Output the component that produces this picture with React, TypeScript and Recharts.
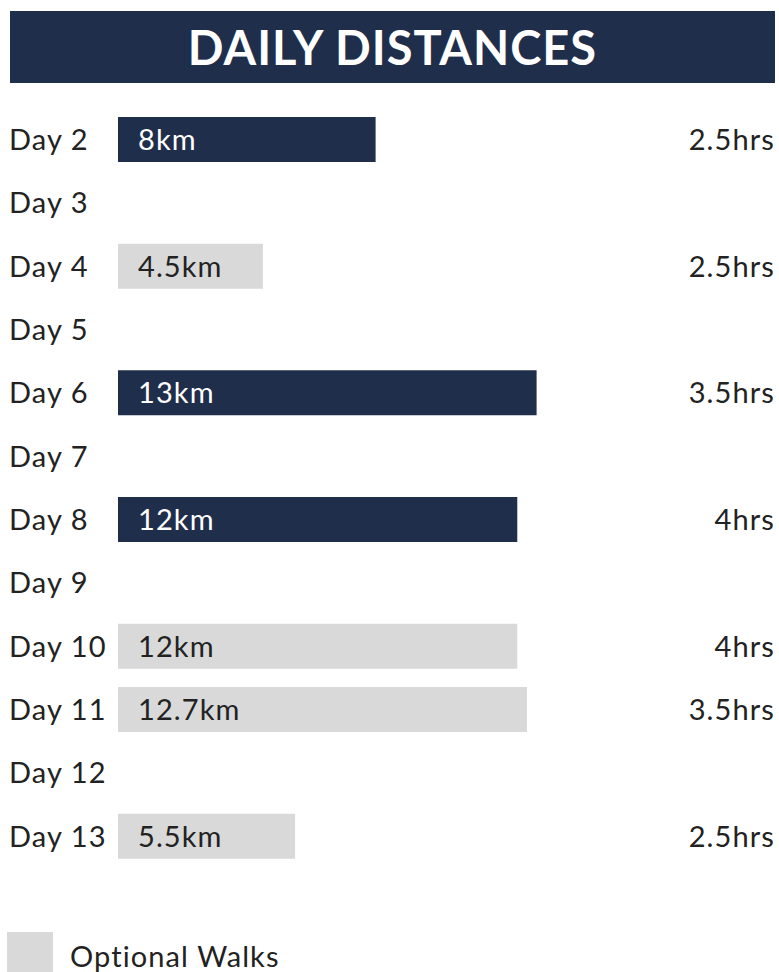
import { Bar, BarChart, LabelList, XAxis, YAxis } from "recharts";

const days = ["Day 2", "Day 3", "Day 4", "Day 5", "Day 6", "Day 7", "Day 8", "Day 9", "Day 10", "Day 11", "Day 12", "Day 13"];
const distances = [8, null, 4.5, null, 13, null, 12.4, null, 12.4, 12.7, null, 5.5];
const distanceLabels = ["8km", "", "4.5km", "", "13km", "", "12km", "", "12km", "12.7km", "", "5.5km"];
const hours = ["2.5hrs", "", "2.5hrs", "", "3.5hrs", "", "4hrs", "", "4hrs", "3.5hrs", "", "2.5hrs"];
const optional = [false, false, true, false, false, false, false, false, true, true, false, true];

const NAVY = "#1f2e4a";
const GREY = "#d9d9d9";
const TEXT = "#222222";
const FONT = "Lato, 'Open Sans', sans-serif";
const SIZE = 29;
const SPACING = 1.1;

// split into walking days and optional walks so each gets its own colour
const data = days.map((day, i) => ({
  day,
  main: optional[i] ? null : distances[i],
  opt: optional[i] ? distances[i] : null,
  mainLabel: optional[i] ? "" : distanceLabels[i],
  optLabel: optional[i] ? distanceLabels[i] : "",
}));

function DayTick(props: any) {
  const { x, y, payload } = props;
  return (
    <text x={x} y={y} dy="0.36em" textAnchor="start" fill={TEXT} fontSize={SIZE} letterSpacing={SPACING}>
      {payload.value}
    </text>
  );
}

function HoursTick(props: any) {
  const { x, y, index } = props;
  return (
    <text x={x} y={y} dy="0.36em" textAnchor="end" fill={TEXT} fontSize={SIZE} letterSpacing={SPACING}>
      {hours[index]}
    </text>
  );
}

const kmLabel = (color: string) => (props: any) => {
  const { x, y, height, value } = props;
  if (!value) return null;
  return (
    <text x={x + 20} y={y + height / 2} dy="0.36em" fill={color} fontSize={SIZE} letterSpacing={SPACING}>
      {value}
    </text>
  );
};

export default function App() {
  return (
    <div style={{ position: "absolute", left: 0, top: 0, width: 779, height: 972, background: "#fff", fontFamily: FONT, overflow: "hidden" }}>
      <div
        style={{
          position: "absolute",
          left: 10,
          top: 11,
          width: 765,
          height: 72,
          background: NAVY,
          color: "#fff",
          fontSize: 47,
          fontWeight: 700,
          display: "flex",
          alignItems: "center",
          justifyContent: "center",
          letterSpacing: 1,
        }}
      >
        DAILY DISTANCES
      </div>

      <div style={{ position: "absolute", left: 0, top: 0 }}>
        <BarChart
          width={779}
          height={872}
          data={data}
          layout="vertical"
          margin={{ top: 108, right: 5, bottom: 4, left: 0 }}
          barSize={45}
        >
          <XAxis type="number" domain={[0, 20]} hide />
          <YAxis
            type="category"
            dataKey="day"
            yAxisId="left"
            width={118}
            axisLine={false}
            tickLine={false}
            tickSize={0}
            tickMargin={109}
            tick={<DayTick />}
            interval={0}
          />
          <YAxis
            type="category"
            dataKey="day"
            yAxisId="right"
            orientation="right"
            width={12}
            axisLine={false}
            tickLine={false}
            tickSize={0}
            tickMargin={13}
            tick={<HoursTick />}
            interval={0}
          />
          <Bar dataKey="main" stackId="km" yAxisId="left" fill={NAVY} isAnimationActive={false}>
            <LabelList dataKey="mainLabel" content={kmLabel("#ffffff")} />
          </Bar>
          <Bar dataKey="opt" stackId="km" yAxisId="left" fill={GREY} isAnimationActive={false}>
            <LabelList dataKey="optLabel" content={kmLabel(TEXT)} />
          </Bar>
        </BarChart>
      </div>

      <div style={{ position: "absolute", left: 7, top: 932, width: 46, height: 46, background: GREY }} />
      <div style={{ position: "absolute", left: 70, top: 936, fontSize: SIZE, color: TEXT, lineHeight: "40px", letterSpacing: SPACING }}>
        Optional Walks
      </div>
    </div>
  );
}
